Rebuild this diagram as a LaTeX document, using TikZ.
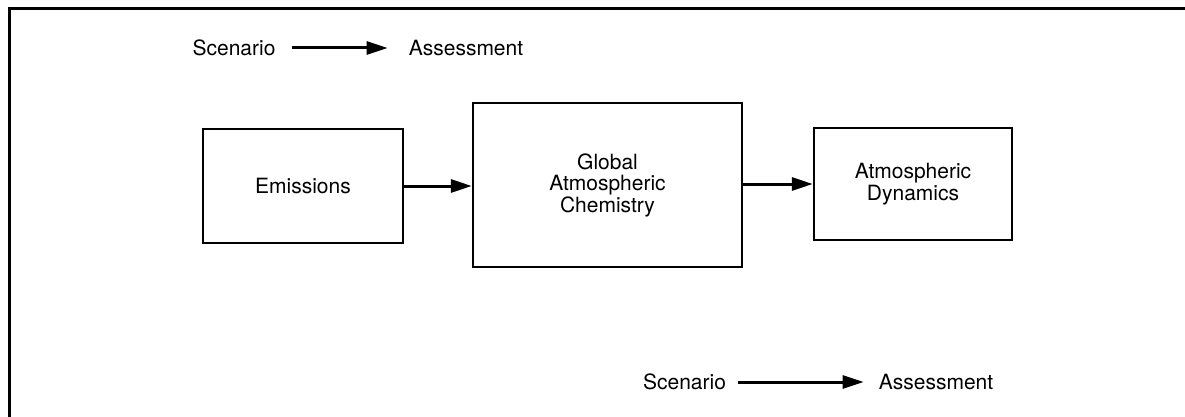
\documentclass[tikz,border=0pt]{standalone}
\usepackage{fontspec}
\setmainfont{TeX Gyre Heros}
\usetikzlibrary{arrows.meta}
\begin{document}
\begin{tikzpicture}[x=1pt,y=-1pt,
  box/.style={draw,line width=2.4pt,inner sep=0pt,align=center,
    font=\fontsize{21}{21.5}\selectfont},
  lbl/.style={inner sep=0pt,font=\fontsize{21}{21.5}\selectfont},
  flow/.style={line width=3pt,-{Triangle[length=21pt,width=13pt]}}]
\useasboundingbox (0,0) rectangle (1185,417);
\draw[line width=3pt] (1185,9) -- (9,9) -- (9,417);
% top legend
\node[lbl] (s1) at (234,48) {Scenario};
\node[lbl] (a1) at (466,48) {Assessment};
\draw[flow,shorten <=16pt,shorten >=21pt] (s1.east) -- (a1.west);
% boxes
\node[box,minimum width=200pt,minimum height=114pt] (em) at (303,186) {Emissions};
\node[box,minimum width=269pt,minimum height=164pt] (gac) at (607.5,185) {Global\\Atmospheric\\Chemistry};
\node[box,minimum width=198pt,minimum height=112pt] (ad) at (913,184) {Atmospheric\\Dynamics};
\draw[flow] (em.east) -- (em.east -| gac.west);
\draw[flow] (ad.west -| gac.east) -- (ad.west);
% bottom legend
\node[lbl] (s2) at (684.5,382) {Scenario};
\node[lbl] (a2) at (936,382) {Assessment};
\draw[flow,shorten <=12pt,shorten >=15pt] (s2.east) -- (a2.west);
\end{tikzpicture}
\end{document}
